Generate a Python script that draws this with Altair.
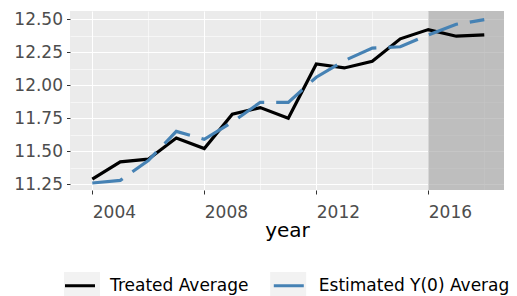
import altair as alt
import pandas as pd

years = list(range(2004, 2019))
treated = [11.29, 11.42, 11.44, 11.60, 11.52, 11.78, 11.83, 11.75, 12.16, 12.13, 12.18, 12.35, 12.42, 12.37, 12.38]
estimated = [11.26, 11.28, 11.43, 11.65, 11.59, 11.72, 11.87, 11.87, 12.06, 12.185, 12.28, 12.29, 12.38, 12.46, 12.495]
series_names = ["Treated Average", "Estimated Y(0) Average"]
series_colors = ["#000000", "#4682B4"]
key_ids = ["k1", "k2"]

x_major = [2004, 2008, 2012, 2016]
x_minor = [2006, 2010, 2014, 2018]
y_major = [11.25, 11.50, 11.75, 12.00, 12.25, 12.50]
y_minor = [11.375, 11.625, 11.875, 12.125, 12.375]
post_start = [2016]
x_domain = [2003.204, 2018.704]
y_domain = [11.207, 12.5605]

df = pd.DataFrame({
    "year": years + years,
    "value": treated + estimated,
    "series": [series_names[0]] * len(years) + [series_names[1]] * len(years),
    "key": [key_ids[0]] * len(years) + [key_ids[1]] * len(years),
})
shade_df = pd.DataFrame({"start": post_start, "end": [x_domain[1]] * len(post_start)})

FONT = "DejaVu Sans"
LABEL_SIZE = 17
xs = alt.Scale(domain=x_domain, nice=False, zero=False)
ys = alt.Scale(domain=y_domain, nice=False, zero=False)

# legend layout
LINE_KEY_W, LINE_SW = 30, 3
LEG_X, LEG_Y = -6.5, 258
LABEL_OFF, COL_PAD = 13.5, 17.8
BOX_KEY_W = 36
BOX_X = -6
first_label_w = 8.375 * LABEL_SIZE  # "Treated Average" in DejaVu Sans
entry2_start = LEG_X + LINE_KEY_W + LINE_SW + LABEL_OFF + first_label_w + COL_PAD
box_col_pad = entry2_start - (BOX_X + BOX_KEY_W)

color = alt.Color(
    "series:N",
    scale=alt.Scale(domain=series_names, range=series_colors),
    sort=series_names,
    legend=alt.Legend(
        orient="none", legendX=LEG_X, legendY=LEG_Y, direction="horizontal",
        title=None, symbolType="stroke", symbolSize=LINE_KEY_W ** 2, symbolStrokeWidth=LINE_SW,
        labelFont=FONT, labelFontSize=LABEL_SIZE, labelColor="#000000",
        labelOffset=LABEL_OFF, columnPadding=COL_PAD, padding=0, labelLimit=400, zindex=2,
    ),
)

key_fill = alt.Fill(
    "key:N",
    scale=alt.Scale(domain=key_ids, range=["#F2F2F2", "#F2F2F2"]),
    sort=key_ids,
    legend=alt.Legend(
        orient="none", legendX=BOX_X,
        legendY=LEG_Y - ((BOX_KEY_W) - (LINE_KEY_W + LINE_SW)) / 2, direction="horizontal",
        title=None, symbolType="M-1,-0.78H1V0.78H-1Z", symbolSize=BOX_KEY_W ** 2,
        symbolStrokeWidth=0, symbolOpacity=1, symbolFillColor="#F2F2F2",
        labelExpr="''", labelFont=FONT, labelFontSize=LABEL_SIZE, labelOffset=0,
        columnPadding=box_col_pad, padding=0, zindex=1,
    ),
)

shade = alt.Chart(shade_df).mark_rect(color="#A0A0A0", opacity=0.6).encode(
    x=alt.X("start:Q", scale=xs, axis=alt.Axis(
        values=x_minor, grid=True, gridColor="white", gridWidth=0.55,
        labels=False, ticks=False, domain=False, title=None, orient="bottom")),
    x2="end:Q",
)

key_layer = alt.Chart(df).mark_point(filled=True, opacity=0, size=1).encode(
    x=alt.X("year:Q", scale=xs, axis=None),
    y=alt.Y("value:Q", scale=ys, axis=None),
    fill=key_fill,
)

treated_line = alt.Chart(df).transform_filter(
    alt.datum.series == series_names[0]
).mark_line(strokeWidth=3.2).encode(
    x=alt.X("year:Q", scale=xs, axis=alt.Axis(
        values=x_major, format="d", grid=True, gridColor="white", gridWidth=1.1,
        labels=True, labelAlign="left", labelFont=FONT, labelFontSize=LABEL_SIZE,
        labelColor="#4D4D4D", labelPadding=10, ticks=True, tickSize=4,
        tickColor="#333333", tickWidth=1, domain=False, title="year",
        titleFont=FONT, titleFontSize=20, titleFontWeight="normal",
        titleColor="#000000", titlePadding=0, orient="bottom")),
    y=alt.Y("value:Q", scale=ys, axis=alt.Axis(
        values=y_minor, grid=True, gridColor="white", gridWidth=0.55,
        labels=False, ticks=False, domain=False, title=None, orient="left")),
    color=color,
)

est_line = alt.Chart(df).transform_filter(
    alt.datum.series == series_names[1]
).mark_line(strokeWidth=3.2, strokeDash=[31, 12]).encode(
    x=alt.X("year:Q", scale=xs, axis=None),
    y=alt.Y("value:Q", scale=ys, axis=alt.Axis(
        values=y_major, format=".2f", grid=True, gridColor="white", gridWidth=1.1,
        labels=True, labelFont=FONT, labelFontSize=LABEL_SIZE, labelColor="#4D4D4D",
        labelPadding=4, ticks=True, tickSize=3.5, tickColor="#333333",
        tickWidth=1, domain=False, title=None, orient="left")),
    color=color,
)

chart = alt.layer(shade, key_layer, treated_line, est_line).resolve_axis(
    x="independent", y="independent"
).properties(
    width=434, height=179,
    autosize=alt.AutoSizeParams(type="none"),
    padding={"left": 62, "top": 3, "right": 5, "bottom": 106},
).configure_view(fill="#EBEBEB", stroke=None)

chart.save("out.html", embed_options={"renderer": "svg", "actions": False})
